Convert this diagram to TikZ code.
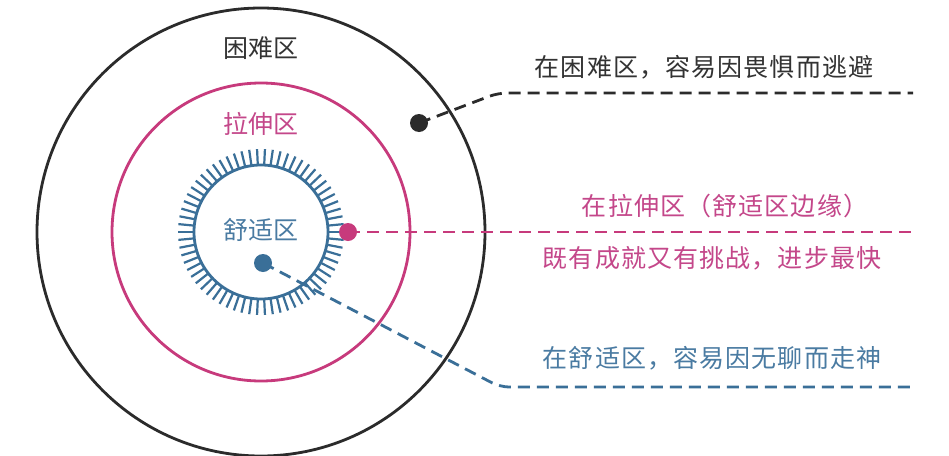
\documentclass[tikz,border=0pt]{standalone}
\usepackage{fontspec}
\setmainfont{Noto Sans CJK SC}
\newfontfamily\widecjk[LetterSpace=4.5]{Noto Sans CJK SC}
\definecolor{cblack}{HTML}{2B2B2B}
\definecolor{cpink}{HTML}{C73A7C}
\definecolor{cblue}{HTML}{3A6F98}
\definecolor{tblack}{HTML}{333333}
\definecolor{tpink}{HTML}{C4478A}
\definecolor{tblue}{HTML}{4A7BA2}
\tikzset{
  ring/.style={line width=2.8pt},
  tickline/.style={line width=2.2pt, cblue},
  conn/.style={line width=2.8pt, dash pattern=on 12pt off 7pt, rounded corners=9pt},
  dotnode/.style={circle, inner sep=0pt, minimum size=18pt},
  lbl/.style={inner sep=0pt, font=\fontsize{25}{30}\selectfont},
  rlbl/.style={inner sep=0pt, font=\widecjk\fontsize{25}{30}\selectfont},
}
\begin{document}
\begin{tikzpicture}[x=1pt,y=-1pt]
\useasboundingbox (0,0) rectangle (949,455);
\fill[white] (0,0) rectangle (949,455);
\coordinate (c) at (261,232);
% circles
\draw[ring, cblack] (c) circle[radius=224];
\draw[ring, cpink] (c) circle[radius=149];
\draw[ring, cblue] (c) circle[radius=67];
\foreach \i in {0,...,65}{
  \pgfmathsetmacro\ang{\i*5.454545}
  \draw[tickline] (c) ++(\ang:67) -- ++(\ang:16);
}
% zone labels
\node[lbl, text=tblack] (hard) at (261,48) {困难区};
\node[lbl, text=tpink] (stretch) at (261,124) {拉伸区};
\node[lbl, text=tblue] (comfort) at (261,230) {舒适区};
% dot positions and line ends
\coordinate (bdot) at (419,123);
\coordinate (pdot) at (348,232);
\coordinate (udot) at (263,263);
\coordinate (bcorner) at (498,93);
\coordinate (bend) at (913,93);
\coordinate (pend) at (913,232);
\coordinate (ucorner) at (500,387);
\coordinate (uend) at (915,387);
% connectors
\draw[conn, cblack] (bdot) -- (bcorner) -- (bend);
\draw[conn, cpink] (pdot) -- (pend);
\draw[conn, cblue] (udot) -- (ucorner) -- (uend);
% dots
\node[dotnode, fill=cblack] (bd) at (bdot) {};
\node[dotnode, fill=cpink] (pd) at (pdot) {};
\node[dotnode, fill=cblue] (ud) at (udot) {};
% right texts
\node[rlbl, text=tblack] (t1) at (704,67) {在困难区，容易因畏惧而逃避};
\node[rlbl, text=tpink] (t2) at (725,206) {在拉伸区（舒适区边缘）};
\node[rlbl, text=tpink] (t3) at (712,258) {既有成就又有挑战，进步最快};
\node[rlbl, text=tblue] (t4) at (712,358) {在舒适区，容易因无聊而走神};
\end{tikzpicture}
\end{document}
